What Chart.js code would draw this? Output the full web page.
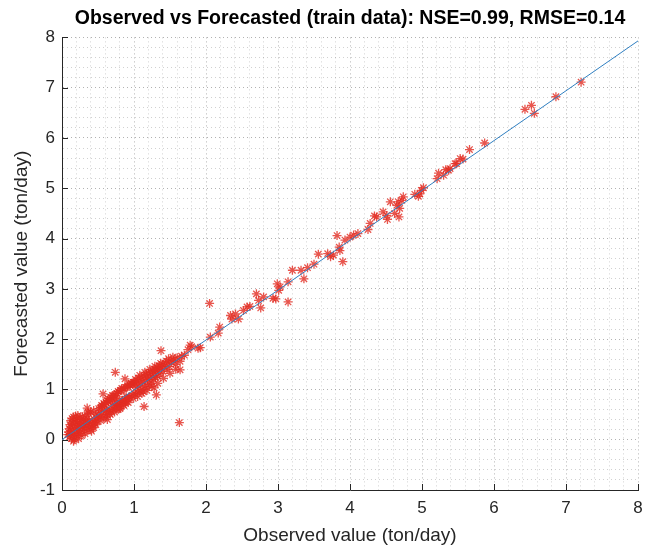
<!DOCTYPE html>
<html>
<head>
<meta charset="utf-8">
<title>Observed vs Forecasted</title>
<script src="https://cdn.jsdelivr.net/npm/chart.js@4.4.1/dist/chart.umd.min.js"></script>
<style>
  body { margin: 0; background: #fff; }
  #wrap { width: 654px; height: 547px; }
</style>
</head>
<body>
<div id="wrap"><canvas id="scatter" width="654" height="547"></canvas></div>
<script>
// ---- data ----
const xTickLabels = [0, 1, 2, 3, 4, 5, 6, 7, 8];
const yTickLabels = [-1, 0, 1, 2, 3, 4, 5, 6, 7, 8];

// fitted line end points (observed -> forecasted)
const fitObserved = [0, 8];
const fitForecast = [0, 7.93];

const observed = [
  // low flows, wide cluster
  0.08, 0.09, 0.10, 0.10, 0.11, 0.12, 0.12, 0.13, 0.13, 0.14, 0.14, 0.15, 0.15, 0.16, 0.16, 0.17, 0.17, 0.17,
  0.18, 0.18, 0.19, 0.19, 0.20, 0.20, 0.21, 0.21, 0.22, 0.22, 0.23, 0.23, 0.24, 0.24, 0.25, 0.25, 0.26, 0.27,
  0.27, 0.28, 0.28, 0.29, 0.30, 0.30, 0.31, 0.32, 0.32, 0.33, 0.34, 0.35, 0.35, 0.35, 0.36, 0.37, 0.38, 0.38,
  0.39, 0.40, 0.40, 0.41, 0.42, 0.43, 0.44, 0.45, 0.46, 0.47, 0.48, 0.49, 0.50, 0.44, 0.47, 0.36,
  // 0.5 - 1.0
  0.52, 0.53, 0.54, 0.55, 0.56, 0.57, 0.58, 0.59, 0.60, 0.61, 0.62, 0.63, 0.63, 0.64, 0.65, 0.66, 0.67, 0.68,
  0.69, 0.70, 0.71, 0.72, 0.72, 0.73, 0.74, 0.74, 0.75, 0.76, 0.77, 0.78, 0.78, 0.79, 0.80, 0.81, 0.82, 0.83,
  0.84, 0.85, 0.86, 0.875, 0.87, 0.88, 0.89, 0.90, 0.91, 0.92, 0.93, 0.94, 0.95, 0.96, 0.97, 0.98, 0.99, 1.00,
  0.55, 0.62, 0.68, 0.76, 0.81, 0.88, 0.93,
  0.51, 0.54, 0.58, 0.61, 0.64, 0.67, 0.70, 0.73, 0.77, 0.80, 0.83, 0.86, 0.90, 0.92, 0.96, 0.99,
  // 1.0 - 1.9
  1.01, 1.02, 1.03, 1.04, 1.05, 1.06, 1.07, 1.08, 1.09, 1.10, 1.11, 1.12, 1.13, 1.14, 1.14, 1.15, 1.16, 1.17,
  1.18, 1.19, 1.20, 1.21, 1.22, 1.23, 1.24, 1.25, 1.26, 1.27, 1.28, 1.28, 1.29, 1.30, 1.31, 1.31, 1.32, 1.33,
  1.34, 1.35, 1.36, 1.375, 1.38, 1.39, 1.40, 1.42, 1.44, 1.46, 1.48, 1.49, 1.52, 1.55, 1.58, 1.60, 1.63, 1.64,
  1.64, 1.66, 1.70, 1.75, 1.78, 1.80, 1.89,
  1.02, 1.05, 1.08, 1.11, 1.15, 1.18, 1.22, 1.25, 1.29, 1.33, 1.37, 1.41, 1.45, 1.50, 1.54, 1.58,
  // upper range
  1.92, 2.05, 2.06, 2.17, 2.19, 2.34, 2.36, 2.41, 2.45, 2.52, 2.57, 2.61, 2.70, 2.73, 2.76, 2.80, 2.93, 2.99,
  3.01, 2.97, 3.14, 3.14, 3.03, 3.20, 3.32, 3.36, 3.41, 3.50, 3.56, 3.69, 3.73, 3.77, 3.82, 3.86, 3.85, 3.90,
  3.93, 4.00, 4.05, 4.11, 4.25, 4.28, 4.34, 4.37, 4.46, 4.51, 4.52, 4.56, 4.62, 4.65, 4.67, 4.68, 4.69, 4.72,
  4.74, 4.90, 4.95, 4.97, 4.99, 5.02, 5.21, 5.23, 5.30, 5.33, 5.37, 5.39, 5.46, 5.48, 5.53, 5.57, 5.66, 5.87,
  6.43, 6.52, 6.56, 6.86, 7.21
];

const forecasted = [
  0.10, 0.15, 0.05, 0.22, 0.30, 0.12, 0.38, 0.02, 0.25, 0.18, 0.42, 0.08, 0.33, -0.03, 0.45, 0.22, 0.12, 0.00,
  0.36, 0.04, 0.28, 0.47, 0.15, 0.40, 0.09, 0.32, 0.24, 0.48, 0.18, 0.02, 0.38, 0.12, 0.44, 0.28, 0.20, 0.35,
  0.08, 0.46, 0.25, 0.15, 0.40, 0.30, 0.22, 0.47, 0.12, 0.35, 0.27, 0.42, 0.18, 0.63, 0.33, 0.52, 0.25, 0.38,
  0.30, 0.55, 0.20, 0.17, 0.36, 0.28, 0.58, 0.40, 0.33, 0.50, 0.42, 0.37, 0.47, 0.24, 0.30, 0.55,
  0.55, 0.45, 0.64, 0.50, 0.66, 0.91, 0.44, 0.70, 0.56, 0.74, 0.50, 0.40, 0.78, 0.61, 0.76, 0.52, 0.80, 0.58,
  0.84, 0.62, 0.86, 0.60, 0.88, 0.70, 1.34, 0.82, 0.64, 0.92, 0.70, 0.60, 0.96, 0.78, 0.68, 0.98, 0.72, 1.02,
  0.78, 0.70, 1.02, 1.21, 0.80, 1.04, 0.86, 0.76, 1.06, 0.82, 1.10, 0.84, 1.08, 1.12, 0.88, 1.10, 1.14, 0.92,
  0.68, 0.58, 0.76, 0.72, 0.63, 0.76, 0.84,
  0.62, 0.38, 0.72, 0.45, 0.82, 0.50, 0.88, 0.55, 0.92, 0.62, 0.98, 0.68, 1.04, 0.74, 1.12, 0.82,
  1.14, 0.90, 1.04, 1.18, 0.94, 1.08, 1.22, 0.97, 1.12, 1.24, 1.00, 1.16, 0.95, 0.66, 1.26, 1.06, 1.18, 1.30,
  1.04, 1.20, 1.32, 1.10, 1.24, 1.34, 1.15, 1.28, 1.38, 1.20, 1.03, 1.32, 1.40, 1.24, 0.89, 1.36, 1.44, 1.26,
  1.40, 1.47, 1.32, 1.77, 1.42, 1.50, 1.36, 1.46, 1.52, 1.40, 1.61, 1.46, 1.54, 1.58, 1.50, 1.63, 0.34, 1.39,
  1.56, 1.66, 1.68, 1.79, 1.88, 1.85, 1.82,
  1.20, 0.86, 1.28, 0.92, 1.34, 0.98, 1.40, 1.06, 1.46, 1.12, 1.52, 1.22, 1.56, 1.32, 1.64, 1.40,
  1.83, 2.71, 2.04, 2.12, 2.24, 2.47, 2.40, 2.50, 2.40, 2.57, 2.64, 2.65, 2.90, 2.77, 2.62, 2.84, 2.81, 3.10,
  2.97, 2.80, 2.74, 3.14, 3.04, 3.37, 3.37, 3.20, 3.42, 3.49, 3.69, 3.70, 3.64, 3.67, 4.06, 3.76, 3.83, 3.54,
  3.97, 4.03, 4.07, 4.10, 4.18, 4.30, 4.45, 4.43, 4.53, 4.46, 4.38, 4.73, 4.50, 4.66, 4.73, 4.43, 4.60, 4.76,
  4.83, 4.88, 4.84, 4.89, 4.96, 5.01, 5.19, 5.30, 5.26, 5.37, 5.36, 5.39, 5.49, 5.49, 5.59, 5.58, 5.77, 5.90,
  6.57, 6.65, 6.49, 6.82, 7.11
];

const isWhole = v => Math.abs(v - Math.round(v)) < 1e-6;
const FONT = 'Liberation Sans, Arial, Helvetica, sans-serif';

// inward tick marks, MATLAB style
const inwardTicks = {
  id: 'inwardTicks',
  afterDatasetsDraw(chart) {
    const { ctx, chartArea: a, scales: { x, y } } = chart;
    ctx.save();
    ctx.strokeStyle = '#262626';
    ctx.lineWidth = 1;
    ctx.beginPath();
    xTickLabels.forEach(v => {
      const px = Math.round(x.getPixelForValue(v)) + 0.5;
      ctx.moveTo(px, a.bottom);
      ctx.lineTo(px, a.bottom - 6);
    });
    yTickLabels.forEach(v => {
      const py = Math.round(y.getPixelForValue(v)) + 0.5;
      ctx.moveTo(a.left, py);
      ctx.lineTo(a.left + 6, py);
    });
    ctx.stroke();
    ctx.restore();
  }
};

const gridColor = c => isWhole(c.tick.value) ? 'rgba(0,0,0,0.30)' : 'rgba(0,0,0,0.18)';

new Chart(document.getElementById('scatter'), {
  type: 'scatter',
  data: {
    datasets: [
      {
        type: 'line',
        data: fitObserved.map((v, i) => ({ x: v, y: fitForecast[i] })),
        borderColor: '#2f7fc1',
        borderWidth: 1,
        pointRadius: 0,
        fill: false,
        order: 0
      },
      {
        data: observed.map((v, i) => ({ x: v, y: forecasted[i] })),
        pointStyle: 'star',
        pointRadius: 4.5,
        borderWidth: 1.3,
        borderColor: 'rgba(226,44,34,0.8)',
        backgroundColor: 'rgba(226,44,34,0.8)',
        order: 1
      }
    ]
  },
  options: {
    responsive: false,
    animation: false,
    layout: { padding: { left: 0, right: 16, top: 0, bottom: 0 } },
    plugins: {
      legend: { display: false },
      tooltip: { enabled: false },
      title: {
        display: true,
        fullSize: false,
        text: 'Observed vs Forecasted (train data): NSE=0.99, RMSE=0.14',
        color: '#000',
        font: { family: FONT, size: 19.5, weight: 'bold' },
        padding: { top: 7, bottom: 7 }
      }
    },
    scales: {
      x: {
        type: 'linear',
        min: 0,
        max: 8,
        afterFit: s => { s.height = 57; },
        ticks: {
          stepSize: 0.2,
          autoSkip: false,
          maxRotation: 0,
          padding: 8,
          color: '#262626',
          font: { family: FONT, size: 17 },
          callback: v => (isWhole(v) && xTickLabels.includes(Math.round(v))) ? String(Math.round(v)) : ''
        },
        grid: { color: gridColor, drawTicks: false },
        border: { display: true, color: '#262626', width: 1, dash: [1, 3] },
        title: {
          display: true,
          text: 'Observed value (ton/day)',
          color: '#262626',
          font: { family: FONT, size: 19 },
          padding: { top: 2, bottom: 0 }
        }
      },
      y: {
        type: 'linear',
        min: -1,
        max: 8,
        afterFit: s => { s.width = 62; },
        ticks: {
          stepSize: 0.2,
          autoSkip: false,
          padding: 7,
          color: '#262626',
          font: { family: FONT, size: 17 },
          callback: v => (isWhole(v) && yTickLabels.includes(Math.round(v))) ? String(Math.round(v)) : ''
        },
        grid: { color: gridColor, drawTicks: false },
        border: { display: true, color: '#262626', width: 1, dash: [1, 3] },
        title: {
          display: true,
          text: 'Forecasted value (ton/day)',
          color: '#262626',
          font: { family: FONT, size: 19 },
          padding: { top: 10, bottom: 0 }
        }
      }
    }
  },
  plugins: [inwardTicks]
});
</script>
</body>
</html>
